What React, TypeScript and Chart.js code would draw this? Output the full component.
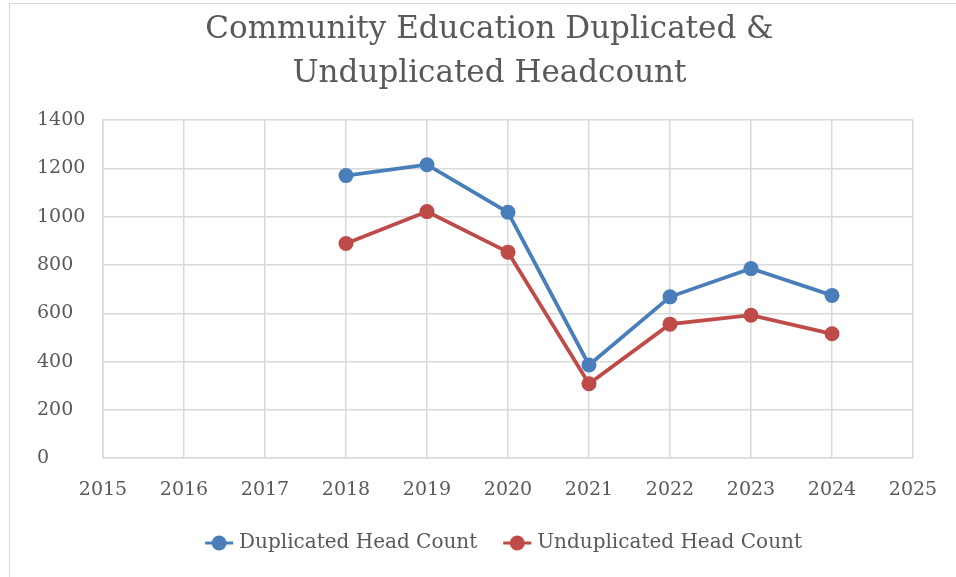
import React, { useEffect, useRef } from "react";
import { Chart, registerables } from "chart.js";

Chart.register(...registerables);

const years = [2018, 2019, 2020, 2021, 2022, 2023, 2024];
const duplicated = [1170, 1215, 1018, 386, 668, 785, 674];
const unduplicated = [889, 1021, 853, 308, 555, 592, 515];
const titleLines = ["Community Education Duplicated &", "Unduplicated Headcount"];
const seriesNames = ["Duplicated Head Count", "Unduplicated Head Count"];
const xMin = 2015;
const xMax = 2025;
const yMin = 0;
const yMax = 1400;
const yStep = 200;

const BLUE = "#4a7ebb";
const RED = "#be4b48";
const TEXT = "#595959";
const GRID = "#d9d9d9";
const FONT = "'DejaVu Serif', 'Liberation Serif', serif";

const LEGEND_FONT = 20;
const BOX_W = 38;
const PAD_LEFT = 37;
const PAD_RIGHT = 43;

// Legend marker canvas: centred at x + BOX_W/2; visible marker ends 6px before text.
function makeMarker(color: string): HTMLCanvasElement {
  const textStart = BOX_W + LEGEND_FONT / 2; // relative to item x
  const markerRight = textStart - 6;
  const markerLeft = markerRight - 28;
  const half = Math.max(markerRight - BOX_W / 2, BOX_W / 2 - markerLeft) + 2;
  const c = document.createElement("canvas");
  c.width = Math.ceil(half * 2);
  c.height = 16;
  const off = c.width / 2 - BOX_W / 2; // canvas coordinate of item x
  const ctx = c.getContext("2d")!;
  ctx.strokeStyle = color;
  ctx.lineWidth = 3;
  ctx.beginPath();
  ctx.moveTo(off + markerLeft, 8);
  ctx.lineTo(off + markerRight, 8);
  ctx.stroke();
  ctx.fillStyle = color;
  ctx.beginPath();
  ctx.arc(off + (markerLeft + markerRight) / 2, 8, 7.5, 0, Math.PI * 2);
  ctx.fill();
  return c;
}

// Shift the centred title and legend slightly right, as in the reference.
const shiftPlugin = {
  id: "shiftBlocks",
  afterLayout(chart: any) {
    const t = chart.titleBlock;
    if (t) {
      t.left += 14.5;
      t.right += 14.5;
    }
    const l = chart.legend;
    if (l) {
      l.left += 21.5;
      l.right += 21.5;
    }
  },
};

export default function App() {
  const ref = useRef<HTMLCanvasElement | null>(null);

  useEffect(() => {
    if (!ref.current) return;
    const markers = [makeMarker(BLUE), makeMarker(RED)];
    const colors = [BLUE, RED];
    const chart = new Chart(ref.current, {
      type: "line",
      plugins: [shiftPlugin],
      data: {
        datasets: [
          {
            label: seriesNames[0],
            data: years.map((y, i) => ({ x: y, y: duplicated[i] })),
            borderColor: BLUE,
            backgroundColor: BLUE,
            borderWidth: 3.75,
            pointRadius: 7.5,
            pointHoverRadius: 7.5,
            pointBorderWidth: 0,
            tension: 0,
          },
          {
            label: seriesNames[1],
            data: years.map((y, i) => ({ x: y, y: unduplicated[i] })),
            borderColor: RED,
            backgroundColor: RED,
            borderWidth: 3.75,
            pointRadius: 7.5,
            pointHoverRadius: 7.5,
            pointBorderWidth: 0,
            tension: 0,
          },
        ],
      },
      options: {
        animation: false,
        responsive: false,
        maintainAspectRatio: false,
        layout: { padding: { left: PAD_LEFT, right: PAD_RIGHT, top: 0, bottom: 14 } },
        plugins: {
          tooltip: { enabled: false },
          title: {
            display: true,
            text: titleLines,
            color: TEXT,
            font: { family: FONT, size: 31, weight: "normal", lineHeight: 1.42 },
            padding: { top: 8, bottom: 24 },
          },
          legend: {
            display: true,
            position: "bottom",
            labels: {
              usePointStyle: true,
              pointStyleWidth: BOX_W,
              padding: 12,
              color: TEXT,
              font: { family: FONT, size: LEGEND_FONT },
              generateLabels: () =>
                seriesNames.map((n, i) => ({
                  text: n,
                  pointStyle: markers[i] as any,
                  fillStyle: colors[i],
                  strokeStyle: colors[i],
                  lineWidth: 0,
                  datasetIndex: i,
                  fontColor: TEXT,
                })),
            },
          },
        },
        scales: {
          x: {
            type: "linear",
            min: xMin,
            max: xMax,
            ticks: {
              stepSize: 1,
              color: TEXT,
              font: { family: FONT, size: 19 },
              padding: 20,
              callback: (v: any) => String(v),
            },
            afterFit: (s: any) => {
              s.paddingLeft = 0;
              s.paddingRight = 0;
            },
            grid: { color: GRID, lineWidth: 1.5, drawTicks: false },
            border: { color: GRID, width: 1.5 },
          },
          y: {
            min: yMin,
            max: yMax,
            ticks: {
              stepSize: yStep,
              color: TEXT,
              font: { family: FONT, size: 19 },
              crossAlign: "far",
              padding: 14,
              callback: (v: any) => String(v),
            },
            afterFit: (s: any) => {
              s.width = 66;
            },
            grid: { color: GRID, lineWidth: 1.5, drawTicks: false },
            border: { color: GRID, width: 1.5 },
          },
        },
      },
    });
    return () => chart.destroy();
  }, []);

  return (
    <div style={{ position: "fixed", left: 0, top: 0, width: 956, height: 577, background: "#fff" }}>
      <div
        style={{
          position: "absolute",
          left: 9,
          top: 3,
          right: 0,
          bottom: 0,
          borderTop: "1.5px solid #d9d9d9",
          borderLeft: "1.5px solid #d9d9d9",
        }}
      />
      <canvas ref={ref} width={956} height={577} style={{ position: "absolute", left: 0, top: 0 }} />
    </div>
  );
}
